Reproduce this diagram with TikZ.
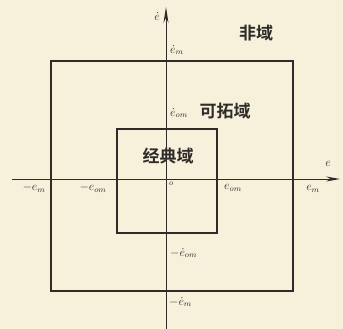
\documentclass[tikz,border=0pt]{standalone}
\usepackage{fontspec}
\newfontfamily\cjk{Noto Sans CJK SC}[BoldFont={* Bold}]
\usetikzlibrary{arrows.meta}
\definecolor{paper}{HTML}{F7F1DC}
\definecolor{ink}{HTML}{2E2B28}
\tikzset{
  axis/.style={ink, line width=1pt},
  outerbox/.style={ink, line width=2pt},
  innerbox/.style={ink, line width=2.6pt},
  lab/.style={text=ink, font=\fontsize{12}{12}\selectfont, inner sep=1pt},
  zone/.style={text=ink, font=\cjk\bfseries\fontsize{17}{17}\selectfont, inner sep=1pt}
}
\begin{document}
\begin{tikzpicture}[x=1pt,y=-1pt]
\fill[paper] (0,0) rectangle (343,329);
\useasboundingbox (0,0) rectangle (343,329);
% coordinates
\coordinate (xl) at (12,179);
\coordinate (xr) at (340,179);
\coordinate (yb) at (166,329);
\coordinate (yt) at (166,7);
\coordinate (o1) at (51,61);
\coordinate (o2) at (293,291);
\coordinate (i1) at (117,129);
\coordinate (i2) at (217,233);
% boxes
\draw[outerbox] (o1) rectangle (o2);
\draw[innerbox] (i1) rectangle (i2);
% axes
\draw[axis, -{Stealth[length=14pt,width=5pt]}] (xl) -- (xr);
\draw[axis, -{Stealth[length=16pt,width=5pt]}] (yb) -- (yt);
% labels
\node[lab, anchor=east] (ly) at (161,17) {$\dot{e}$};
\node[lab, anchor=west] (lym) at (169,50) {$\dot{e}_m$};
\node[zone] (fei) at (256,33) {非域};
\node[lab, anchor=west] (lyom) at (169,113) {$\dot{e}_{om}$};
\node[zone] (ketuo) at (225,111) {可拓域};
\node[zone] (jingdian) at (168,156) {经典域};
\node[lab, font=\footnotesize, anchor=north west] (lo) at (168,181) {$o$};
\node[lab] (lxmn) at (34,188) {$-e_m$};
\node[lab] (lxomn) at (93,188) {$-e_{om}$};
\node[lab] (lxom) at (233,188) {$e_{om}$};
\node[lab] (lxm) at (313,189) {$e_m$};
\node[lab] (lx) at (328,164) {$e$};
\node[lab, anchor=west] (lyomn) at (169,253) {$-\dot{e}_{om}$};
\node[lab, anchor=west] (lymn) at (168,302) {$-\dot{e}_m$};
\end{tikzpicture}
\end{document}
